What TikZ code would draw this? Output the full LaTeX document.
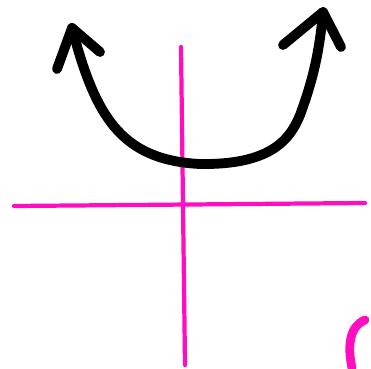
\documentclass[tikz,border=0pt]{standalone}
\usepackage{tikz}
\definecolor{axisPink}{HTML}{FF0DBE}

\begin{document}
\begin{tikzpicture}[
  x=0.02cm, y=-0.02cm,
  axis/.style={axisPink,line width=2.4pt,line cap=round},
  curve/.style={black,line width=5.6pt,line cap=round,line join=round}
]
  \useasboundingbox (0,0) rectangle (371,368);

  % --- axes (pink) ---
  \coordinate (yTop) at (181,47);
  \coordinate (yBot) at (185,365);
  \coordinate (xLeft) at (14,206);
  \coordinate (xRight) at (365,203);
  \draw[axis] (yTop) -- (yBot);
  \draw[axis] (xLeft) -- (xRight);

  % --- U-shaped curve with arrow ends ---
  \coordinate (tipL) at (72,28);
  \coordinate (tipR) at (323,12);
  \coordinate (low) at (200,164);
  \draw[curve] (tipL) .. controls (95,115) and (120,160) .. (low)
               .. controls (270,165) and (290,140) .. (300,115)
               .. controls (315,75) and (320,45) .. (tipR);
  \draw[curve] (57,69) -- (tipL) -- (100,52);
  \draw[curve] (283,45) -- (tipR) -- (341,47);

  % --- partial bracket, bottom right ---
  \draw[axisPink,line width=5pt,line cap=round] (365,320) .. controls (350,326) and (347,345) .. (352,368);
\end{tikzpicture}
\end{document}
